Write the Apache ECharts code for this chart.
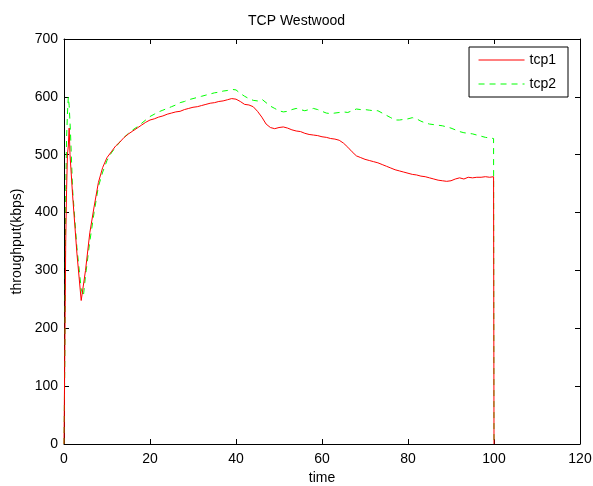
<!DOCTYPE html>
<html>
<head>
<meta charset="utf-8">
<script src="https://cdn.jsdelivr.net/npm/echarts@6/dist/echarts.min.js"></script>
<style>
  html, body { margin: 0; padding: 0; background: #fff; }
  #chart { width: 593px; height: 486px; }
</style>
</head>
<body>
<div id="chart"></div>
<script>
// Throughput samples (time in s, kbps)
const tcp1Time = [0,0.2,0.4,0.6,0.8,1.0,1.2,1.4,2,3,4,4.2,5,6,7,8,9,10,11,12,13,14,15,16,17,18,19,20,21,22,23,24,25,26,27,28,29,30,31,32,33,34,35,36,37,38,39,40,41,42,43,44,45,46,47,48,49,50,51,52,53,54,55,56,57,58,59,60,61,62,63,64,65,66,67,68,69,70,71,72,73,74,75,76,77,78,79,80,81,82,83,84,85,86,87,88,89,90,91,92,93,94,95,96,97,98,99,99.9,100];
const tcp1Kbps = [0,170,350,440,500,515,546,500,430,330,248,245,300,365,410,452,478,495,505,515,522,530,536,541,546,551,556,560,562,565,567,570,572,574,575,578,580,582,583,585,587,589,590,592,593,595,597,596,592,587,586,583,575,565,553,547,545,547,548,546,543,541,540,537,535,534,533,531,530,528,527,525,520,513,505,498,495,492,490,488,486,483,480,477,474,472,470,468,466,465,463,462,460,458,456,455,454,455,458,460,458,461,460,461,461,462,461,462,0];

const tcp2Time = [0,0.2,0.4,0.6,0.8,1.0,1.2,1.5,2,3,4,4.5,5,6,7,8,9,10,11,12,13,14,15,16,17,18,19,20,21,22,23,24,25,26,27,28,29,30,31,32,33,34,35,36,37,38,39,40,41,42,43,44,45,46,47,48,49,50,51,52,53,54,55,56,57,58,59,60,61,62,63,64,65,66,67,68,69,70,71,72,73,74,75,76,77,78,79,80,81,82,83,84,85,86,87,88,89,90,91,92,93,94,95,96,97,98,99,99.9,100];
const tcp2Kbps = [0,150,430,530,570,600,585,540,440,340,268,255,290,350,400,445,470,490,503,513,522,530,537,543,548,554,560,566,570,574,577,580,583,586,590,592,595,597,599,601,603,605,607,608,610,611,613,612,606,601,597,594,593,596,590,584,580,576,574,575,578,580,578,576,578,580,578,575,572,571,572,573,574,573,576,579,578,578,577,576,576,572,568,564,560,560,561,562,564,562,558,555,553,552,551,550,548,546,543,540,538,537,536,534,532,530,529,528,0];

const xTicks = [0, 20, 40, 60, 80, 100, 120];
const yTicks = [0, 100, 200, 300, 400, 500, 600, 700];

const pairs = (xs, ys) => xs.map((x, i) => [x, ys[i]]);

const FONT = 'Liberation Sans, Arial, Helvetica, sans-serif';
const tickCommon = { inside: true, length: 5, lineStyle: { color: '#000' } };
const lineCommon = { show: true, onZero: false, lineStyle: { color: '#000', width: 1 } };

const chart = echarts.init(document.getElementById('chart'), null, { renderer: 'canvas' });
chart.setOption({
  backgroundColor: '#fff',
  animation: false,
  title: {
    text: 'TCP Westwood',
    left: 'center',
    top: 9,
    textStyle: { fontFamily: FONT, fontSize: 14, fontWeight: 'normal', color: '#000' }
  },
  grid: { left: 64, right: 13, top: 39, bottom: 42, containLabel: false, outerBoundsMode: 'none' },
  legend: {
    orient: 'vertical',
    right: 25,
    top: 47,
    itemWidth: 46,
    itemHeight: 12,
    itemGap: 10,
    padding: [6, 12, 6, 9],
    borderColor: '#000',
    borderWidth: 1,
    backgroundColor: '#fff',
    itemStyle: { opacity: 0 },
    lineStyle: { width: 1 },
    textStyle: { fontFamily: FONT, fontSize: 14, color: '#000' },
    data: ['tcp1', 'tcp2']
  },
  xAxis: [
    {
      type: 'value', min: 0, max: 120, interval: 20,
      name: 'time', nameLocation: 'middle', nameGap: 27,
      nameTextStyle: { fontFamily: FONT, fontSize: 14, color: '#000' },
      axisLine: lineCommon, axisTick: tickCommon, splitLine: { show: false },
      axisLabel: { fontFamily: FONT, fontSize: 14, color: '#000', margin: 8 }
    },
    {
      type: 'value', min: 0, max: 120, interval: 20, position: 'top',
      axisLine: lineCommon, axisTick: tickCommon, splitLine: { show: false },
      axisLabel: { show: false }
    }
  ],
  yAxis: [
    {
      type: 'value', min: 0, max: 700, interval: 100,
      name: 'throughput(kbps)', nameLocation: 'middle', nameGap: 40,
      nameTextStyle: { fontFamily: FONT, fontSize: 14, color: '#000' },
      axisLine: lineCommon, axisTick: tickCommon, splitLine: { show: false },
      axisLabel: { fontFamily: FONT, fontSize: 14, color: '#000', margin: 6 }
    },
    {
      type: 'value', min: 0, max: 700, interval: 100, position: 'right',
      axisLine: lineCommon, axisTick: tickCommon, splitLine: { show: false },
      axisLabel: { show: false }
    }
  ],
  series: [
    {
      name: 'tcp1', type: 'line', symbol: 'none',
      data: pairs(tcp1Time, tcp1Kbps),
      lineStyle: { color: '#ff0000', width: 1 },
      itemStyle: { color: '#ff0000' },
      z: 3
    },
    {
      name: 'tcp2', type: 'line', symbol: 'none',
      data: pairs(tcp2Time, tcp2Kbps),
      lineStyle: { color: '#00ff00', width: 1, type: [6, 5] },
      itemStyle: { color: '#00ff00' },
      z: 2
    }
  ]
});
</script>
</body>
</html>
